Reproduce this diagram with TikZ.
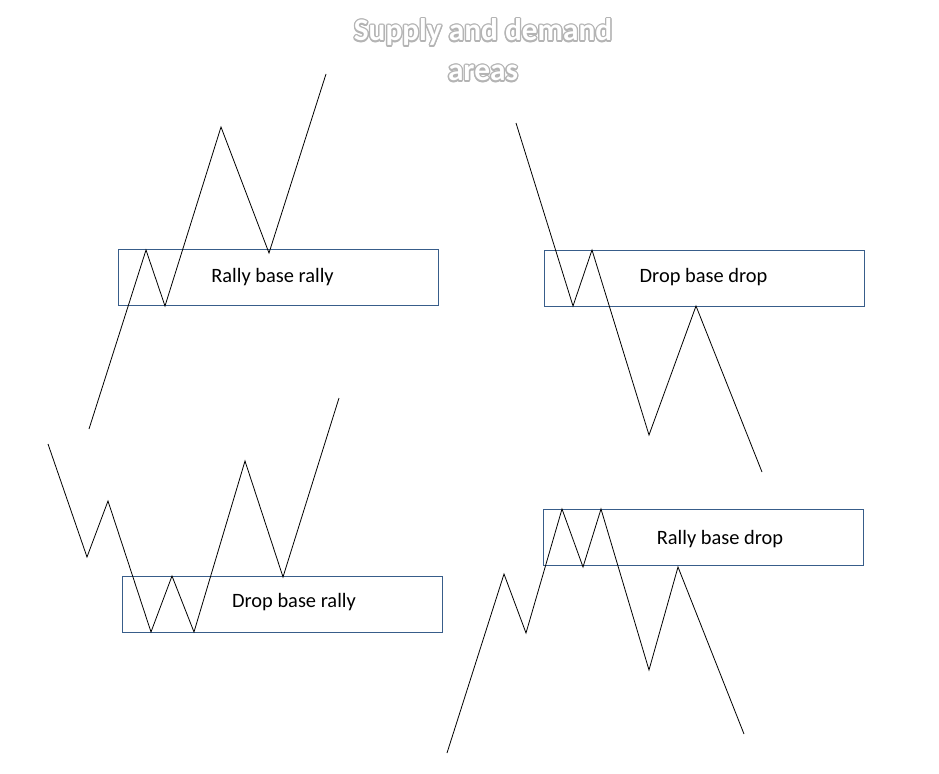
\documentclass[tikz,border=0pt]{standalone}
\usepackage{fontspec}
\setmainfont{Carlito}
\usepackage{xcolor}
\definecolor{zoneblue}{HTML}{385D8A}
\definecolor{glow}{HTML}{B4B4B4}
\tikzset{
  zone/.style={draw=zoneblue, line width=0.75pt, minimum width=240pt, minimum height=42pt, inner sep=0pt},
  zonetext/.style={font=\fontsize{15.3}{18}\selectfont, inner sep=0pt},
  price/.style={draw=black, line width=0.6pt, line join=miter},
  titletext/.style={font=\fontsize{23.5}{30}\selectfont\bfseries, align=center, inner sep=0pt}
}

\begin{document}
\begin{tikzpicture}[x=0.75pt, y=-0.75pt]
  \fill[white] (0,0) rectangle (939,774);
  \useasboundingbox (0,0) rectangle (939,774);
  % title with a soft outline
  \foreach \a in {0,30,...,330}
    \node[titletext, text=glow, shift={(\a:1.3)}] at (483,50) {Supply and demand\\areas};
  \node[titletext, text=white] (title) at (483,50) {Supply and demand\\areas};
  % zones
  \node[zone] (rbrbox) at (278.5,277.5) {};
  \node[zone] (dbdbox) at (704.5,278) {};
  \node[zone] (dbrbox) at (282.5,604) {};
  \node[zone] (rbdbox) at (703.5,537) {};
  \node[zonetext] (rbr) at (272.5,277) {Rally base rally};
  \node[zonetext] (dbd) at (703.5,277) {Drop base drop};
  \node[zonetext] (dbr) at (294,602) {Drop base rally};
  \node[zonetext] (rbd) at (720,539) {Rally base drop};
  % price swings
  \draw[price] (89,429) -- (146,250) -- (165,306) -- (221,127) -- (269,253) -- (326,74);
  \draw[price] (516,123) -- (573,306) -- (592,250) -- (649,435) -- (696,306) -- (762,472);
  \draw[price] (48,444) -- (87,557) -- (108,501) -- (151,632) -- (172,576) -- (194,632)
    -- (245,461) -- (283,577) -- (339,398);
  \draw[price] (447,753) -- (504,574) -- (526,633) -- (562,509) -- (583,567) -- (601,509)
    -- (649,670) -- (678,567) -- (744,734);
\end{tikzpicture}
\end{document}
